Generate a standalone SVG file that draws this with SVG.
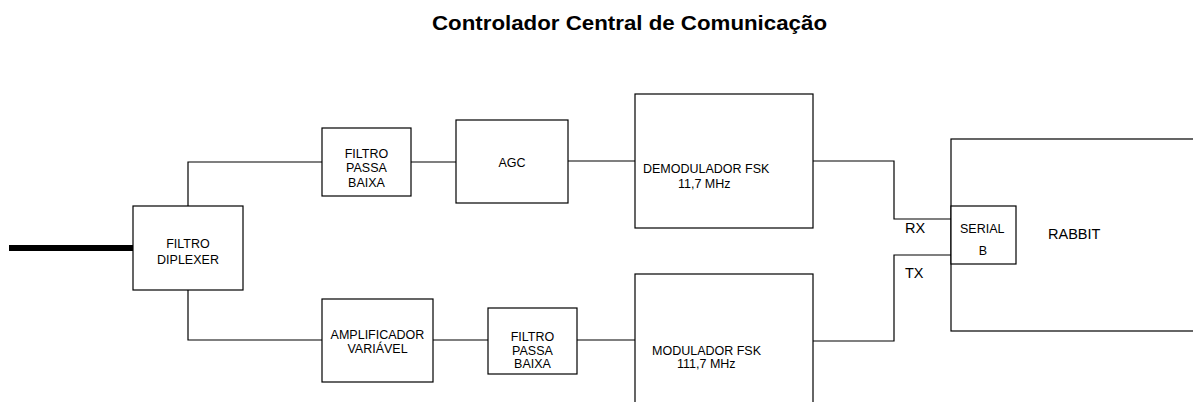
<svg xmlns="http://www.w3.org/2000/svg" width="1193" height="402" viewBox="0 0 1193 402">
<style>
.box{fill:#fff;stroke:#000;stroke-width:1.2}
.ln{fill:none;stroke:#000;stroke-width:1.2}
text{font-family:"Liberation Sans",Arial,sans-serif;font-size:12.5px;fill:#000}
.c{text-anchor:middle}
.big{font-size:14.5px}
.title{font-size:21px;font-weight:bold;text-anchor:middle}
</style>
<rect width="1193" height="402" fill="#fff"/>
<text class="title" x="629.5" y="30" textLength="395" lengthAdjust="spacingAndGlyphs">Controlador Central de Comunicação</text>
<g id="connectors">
<line x1="9" y1="248" x2="133" y2="248" stroke="#000" stroke-width="6"/>
<polyline class="ln" points="188,206 188,162 322,162"/>
<polyline class="ln" points="188,290 188,340 322,340"/>
<line class="ln" x1="411" y1="162" x2="456" y2="162"/>
<line class="ln" x1="568" y1="161" x2="635" y2="161"/>
<polyline class="ln" points="813,161 894,161 894,219 951,219"/>
<line class="ln" x1="433" y1="340" x2="488" y2="340"/>
<line class="ln" x1="577" y1="340" x2="635" y2="340"/>
<polyline class="ln" points="813,341 894,341 894,255 951,255"/>
</g>
<g id="diplexer">
<rect class="box" x="133" y="206" width="110" height="84"/>
<text class="c" x="188" y="248">FILTRO</text>
<text class="c" x="188" y="264">DIPLEXER</text>
</g>
<g id="filtro-rx">
<rect class="box" x="322" y="128" width="89" height="68"/>
<text class="c" x="366.5" y="157.5">FILTRO</text>
<text class="c" x="366.5" y="172">PASSA</text>
<text class="c" x="366.5" y="187">BAIXA</text>
</g>
<g id="agc">
<rect class="box" x="456" y="120" width="112" height="83"/>
<text class="c" x="512" y="166.5">AGC</text>
</g>
<g id="demodulador">
<rect class="box" x="635" y="94" width="178" height="134"/>
<text x="643" y="173">DEMODULADOR FSK</text>
<text x="678" y="188">11,7 MHz</text>
</g>
<g id="amplificador">
<rect class="box" x="322" y="299" width="111" height="83"/>
<text class="c" x="377.5" y="338.5">AMPLIFICADOR</text>
<text class="c" x="377.5" y="353">VARIÁVEL</text>
</g>
<g id="filtro-tx">
<rect class="box" x="488" y="308" width="89" height="66"/>
<text class="c" x="532.5" y="340.5">FILTRO</text>
<text class="c" x="532.5" y="354.5">PASSA</text>
<text class="c" x="532.5" y="368">BAIXA</text>
</g>
<g id="modulador">
<rect class="box" x="635" y="274" width="178" height="150"/>
<text x="652" y="354.5">MODULADOR FSK</text>
<text x="677" y="368">111,7 MHz</text>
</g>
<g id="rabbit">
<rect class="box" x="951" y="139" width="260" height="192"/>
<text class="big" x="1048" y="239">RABBIT</text>
</g>
<g id="serial">
<rect class="box" x="951" y="206" width="65" height="58"/>
<text x="960" y="233">SERIAL</text>
<text class="c" x="983" y="255">B</text>
</g>
<g id="labels">
<text class="big" x="905" y="233">RX</text>
<text class="big" x="905" y="278">TX</text>
</g>
</svg>
